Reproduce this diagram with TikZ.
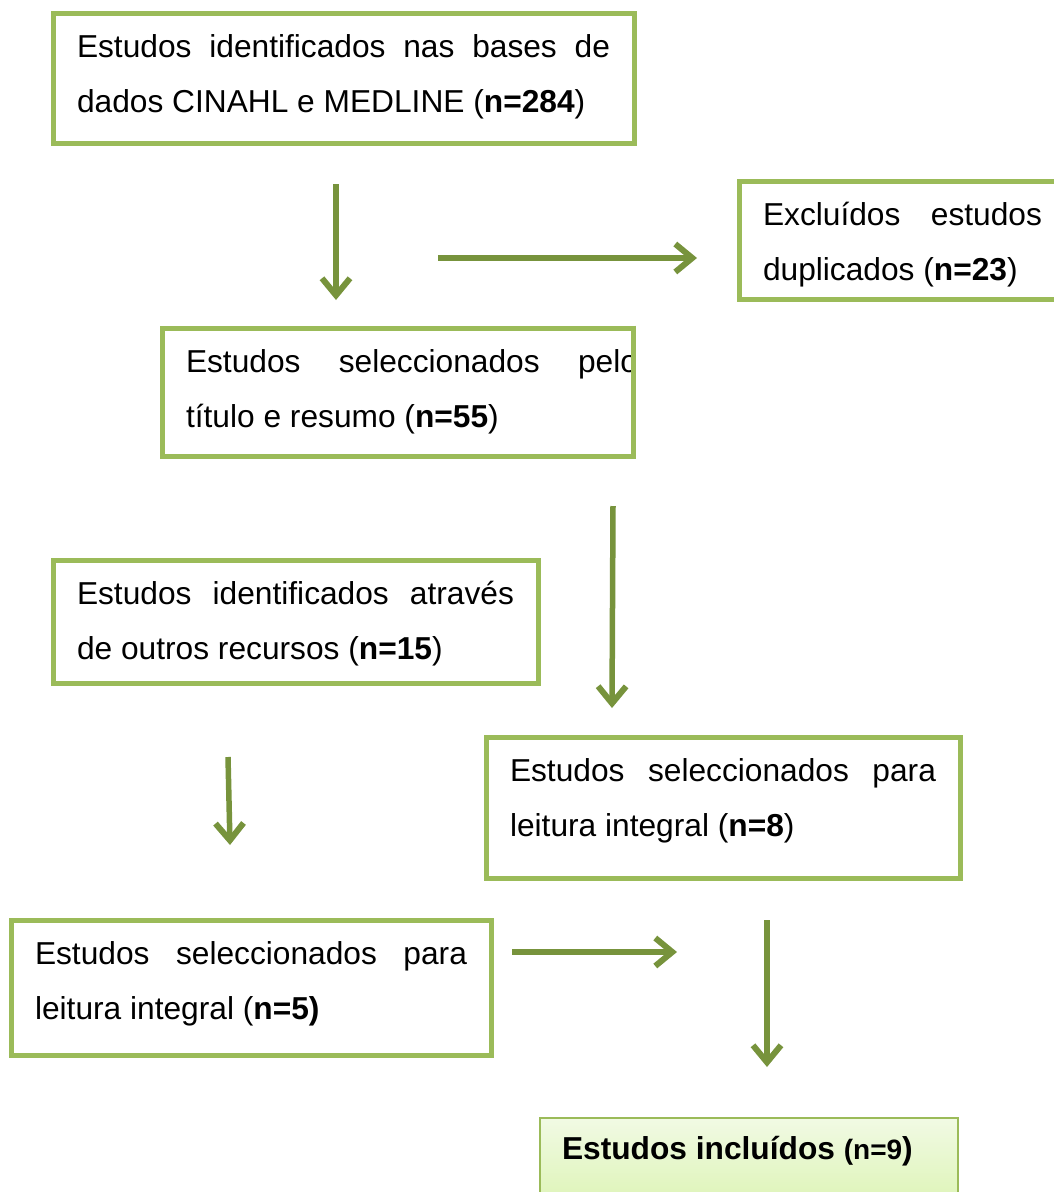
\documentclass[tikz,border=0pt]{standalone}
\usepackage{fontspec}
\setmainfont{Liberation Sans}
\usetikzlibrary{arrows.meta}
\definecolor{boxgreen}{RGB}{155,187,89}
\definecolor{arrowgreen}{RGB}{119,147,60}
\definecolor{inctop}{RGB}{241,250,228}
\definecolor{incbottom}{RGB}{216,243,170}

\tikzset{
  stage/.style={draw=boxgreen, line width=5pt, rectangle, anchor=north west,
    outer sep=0pt, inner xsep=24pt, inner ysep=13pt, align=justify,
    font=\fontsize{31.7}{55}\selectfont,
    execute at begin node={\noindent\spaceskip=0.278em plus 2em\relax\rule{0pt}{31pt}}},
  lastdepth/.style={execute at end node={\rule[-#1]{0pt}{#1}}},
  flow/.style={draw=arrowgreen, line width=5.5pt,
    -{Straight Barb[length=17pt,width=28pt,line width=6pt]}},
}

\begin{document}
\begin{tikzpicture}[x=1pt,y=-1pt]
  \useasboundingbox (0,0) rectangle (1054,1192);

  % boxes of the flow
  \node[stage, text width=533pt, lastdepth=18pt] (db) at (53,13)
    {Estudos identificados nas bases de dados CINAHL e MEDLINE (\textbf{n=284})};
  \node[stage, text width=279pt, lastdepth=5pt] (dup) at (739,181)
    {Excluídos estudos duplicados (\textbf{n=23})};
  \node[stage, text width=423pt, lastdepth=16pt, align=left] (tit) at (162,328)
    {\makebox[423pt][l]{\hbox to 452pt{Estudos\hfill seleccionados\hfill pelo}}\\título e resumo (\textbf{n=55})};
  % text of this box runs past its right edge
  \fill[white] ([xshift=2.5pt]tit.north east) rectangle ([xshift=40pt]tit.south east);
  \draw[boxgreen, line width=5pt] ([yshift=2.5pt]tit.north east) -- ([yshift=-2.5pt]tit.south east);
  \node[stage, text width=437pt, lastdepth=11pt] (out) at (53,560)
    {Estudos identificados através de outros recursos (\textbf{n=15})};
  \node[stage, text width=426pt, lastdepth=29pt] (full8) at (486,737)
    {Estudos seleccionados para leitura integral (\textbf{n=8})};
  \node[stage, text width=432pt, lastdepth=23pt] (full5) at (11,920)
    {Estudos seleccionados para leitura integral (\textbf{n=5)}};
  \node[stage, line width=2pt, inner xsep=22pt, inner ysep=10pt, text width=374pt,
    lastdepth=59pt, align=left, top color=inctop, bottom color=incbottom] (inc) at (540,1118)
    {\textbf{Estudos incluídos {\fontsize{28}{30}\selectfont(n=9})}};

  % arrow ends
  \coordinate (a1s) at (336,184);  \coordinate (a1e) at (336,300);
  \coordinate (a2s) at (438,258);  \coordinate (a2e) at (697,258);
  \coordinate (a3s) at (613,506);  \coordinate (a3e) at (612,708);
  \coordinate (a4s) at (228,757);  \coordinate (a4e) at (230,845);
  \coordinate (a5s) at (512,952);  \coordinate (a5e) at (677,952);
  \coordinate (a6s) at (767,920);  \coordinate (a6e) at (767,1067);

  \draw[flow] (a1s) -- (a1e);
  \draw[flow] (a2s) -- (a2e);
  \draw[flow] (a3s) -- (a3e);
  \draw[flow] (a4s) -- (a4e);
  \draw[flow] (a5s) -- (a5e);
  \draw[flow] (a6s) -- (a6e);
\end{tikzpicture}
\end{document}
